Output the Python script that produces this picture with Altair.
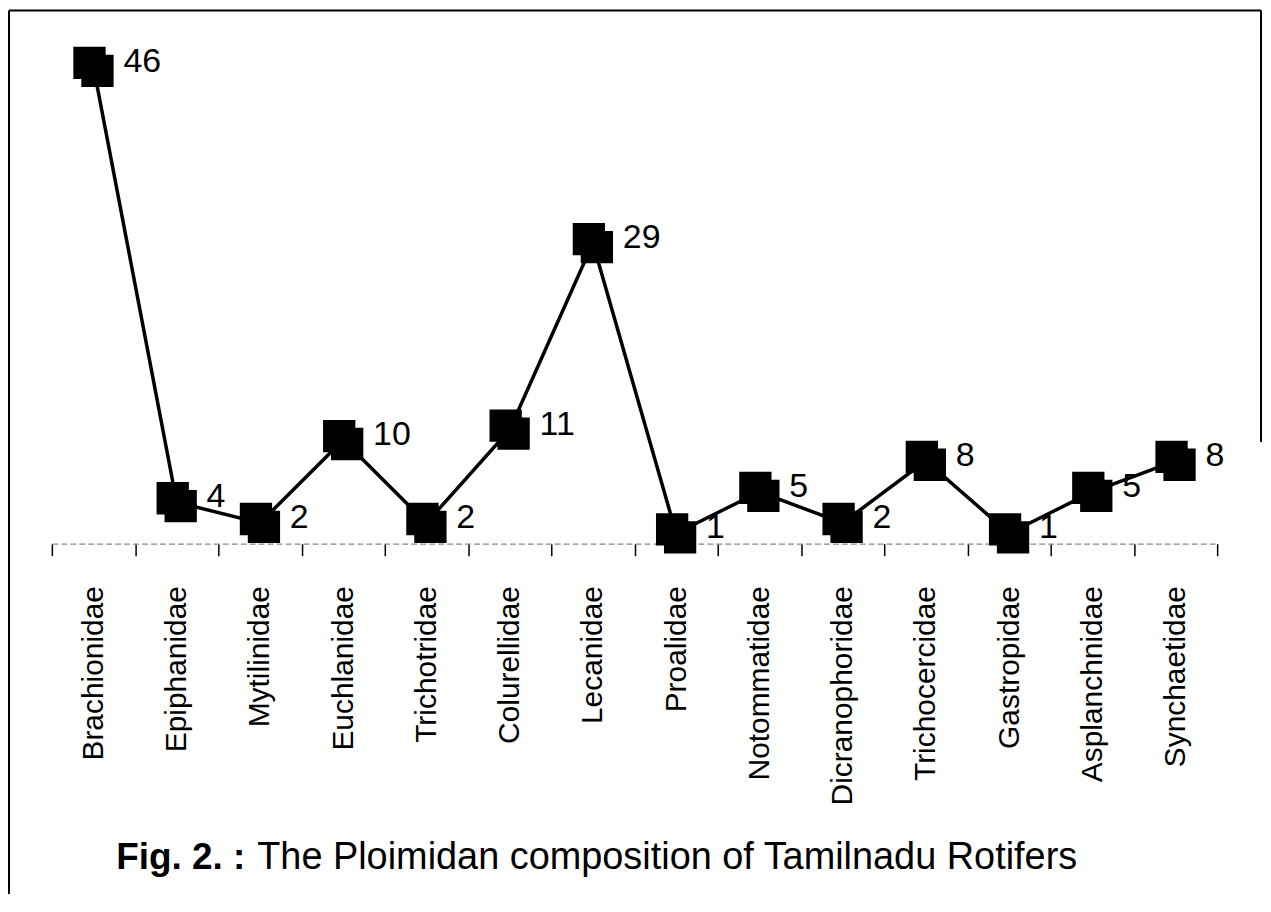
import altair as alt
import pandas as pd

families = ["Brachionidae", "Epiphanidae", "Mytilinidae", "Euchlanidae", "Trichotridae",
            "Colurellidae", "Lecanidae", "Proalidae", "Notommatidae", "Dicranophoridae",
            "Trichocercidae", "Gastropidae", "Asplanchnidae", "Synchaetidae"]
counts = [46, 4, 2, 10, 2, 11, 29, 1, 5, 2, 8, 1, 5, 8]
caption_bold = "Fig. 2. :"
caption_rest = "The Ploimidan composition of Tamilnadu Rotifers"

df = pd.DataFrame({"family": families, "count": counts,
                   "label": [str(c) for c in counts]})

FONT = "Liberation Sans"
W, H = 1169, 520

x = alt.X("family:N", sort=families,
          scale=alt.Scale(type="band", paddingInner=0, paddingOuter=0),
          axis=alt.Axis(title=None, labelAngle=-90, labelAlign="right", labelBaseline="middle",
                        labelFont=FONT, labelFontSize=30, labelColor="black", labelLimit=400,
                        labelPadding=30, tickSize=12, tickColor="black", tickWidth=1.5,
                        tickBand="extent", domainColor="#888888", domainDash=[6, 3],
                        domainWidth=1.2, labelOverlap=False, grid=False))
y = alt.Y("count:Q", scale=alt.Scale(domain=[0, 50]), axis=None)

base = alt.Chart(df).encode(x=x, y=y)

line = base.mark_line(color="black", strokeWidth=3.5)
sq1 = base.mark_square(color="black", opacity=1, size=1050, xOffset=-4, yOffset=-4)
sq2 = base.mark_square(color="black", opacity=1, size=1050, xOffset=4, yOffset=4)
labels = base.mark_text(align="left", baseline="middle", dx=30, dy=-5,
                        font=FONT, fontSize=34, color="black").encode(text="label:N")

frame_df = pd.DataFrame({"k": [0]})
top_rule = alt.Chart(frame_df).mark_rule(color="black", strokeWidth=2).encode(
    x=alt.value(-43), x2=alt.value(1213), y=alt.value(-15))
left_rule = alt.Chart(frame_df).mark_rule(color="black", strokeWidth=2).encode(
    x=alt.value(-43), y=alt.value(-15), y2=alt.value(H + 360))
right_rule = alt.Chart(frame_df).mark_rule(color="black", strokeWidth=2).encode(
    x=alt.value(1213), y=alt.value(-15), y2=alt.value(418))

cap_df = pd.DataFrame({"a": [caption_bold], "b": [caption_rest]})
cap_bold = alt.Chart(cap_df).mark_text(align="right", baseline="middle", font=FONT,
                                       fontSize=37, fontWeight="bold", color="black").encode(
    text="a:N", x=alt.value(194), y=alt.value(835))
cap_rest = alt.Chart(cap_df).mark_text(align="left", baseline="middle", font=FONT,
                                       fontSize=38, color="black").encode(
    text="b:N", x=alt.value(206), y=alt.value(835))

chart = alt.layer(line, sq1, sq2, labels, top_rule, left_rule, right_rule, cap_bold, cap_rest).properties(
    width=W, height=H,
    background="white",
    autosize=alt.AutoSizeParams(type="none"),
    padding={"left": 44, "top": 16, "right": 46, "bottom": 350},
).configure_view(stroke=None, strokeWidth=0)

chart.save("out.html", embed_options={"renderer": "svg", "actions": False})
